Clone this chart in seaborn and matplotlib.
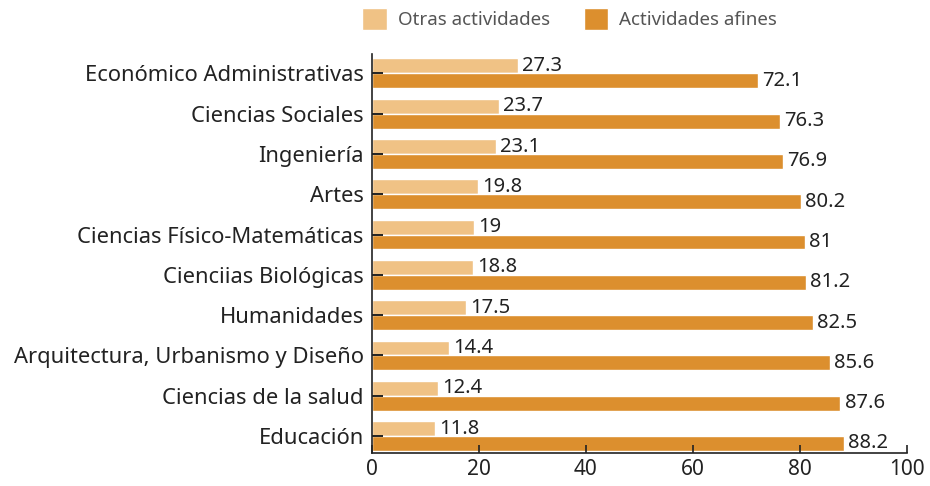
import pandas as pd
import seaborn as sns
import matplotlib.pyplot as plt

# Data
areas = [
    "Económico Administrativas",
    "Ciencias Sociales",
    "Ingeniería",
    "Artes",
    "Ciencias Físico-Matemáticas",
    "Cienciias Biológicas",
    "Humanidades",
    "Arquitectura, Urbanismo y Diseño",
    "Ciencias de la salud",
    "Educación",
]
otras = [27.3, 23.7, 23.1, 19.8, 19, 18.8, 17.5, 14.4, 12.4, 11.8]
afines = [72.1, 76.3, 76.9, 80.2, 81, 81.2, 82.5, 85.6, 87.6, 88.2]
series = ["Otras actividades", "Actividades afines"]
colors = ["#F0C285", "#DC8F2E"]

df = pd.DataFrame({"area": areas, series[0]: otras, series[1]: afines})
df = df.melt(id_vars="area", var_name="serie", value_name="pct")

sns.set_style("white")
plt.rcParams["font.family"] = ["Noto Sans", "DejaVu Sans"]

fig = plt.figure(figsize=(9.3, 4.86), dpi=100)
ax = fig.add_axes([0.4, 0.068, 0.575, 0.82])

sns.barplot(
    data=df, y="area", x="pct", hue="serie", hue_order=series,
    palette=colors, orient="h", width=0.74, ax=ax, saturation=1,
)

for cont in ax.containers:
    ax.bar_label(cont, fmt="%g", padding=3, fontsize=14.5, color="#222222")

ax.set_axisbelow(False)
ax.set_xlim(0, 100)
ax.set_ylim(9.42, -0.47)
ax.set_xticks([0, 20, 40, 60, 80, 100])
ax.set_xlabel("")
ax.set_ylabel("")
ax.tick_params(axis="x", bottom=True, direction="in", length=6, width=1.2,
               labelsize=15, pad=4, colors="#222222")
ax.tick_params(axis="y", left=True, direction="in", length=8, width=1.4,
               labelsize=15.8, pad=6, colors="#222222")
for s in ["top", "right"]:
    ax.spines[s].set_visible(False)
for s in ["left", "bottom"]:
    ax.spines[s].set_color("#222222")
    ax.spines[s].set_linewidth(1.2)

leg = ax.legend(
    loc="lower center", bbox_to_anchor=(0.37, 1.02), ncol=2, frameon=False,
    fontsize=13.5, handlelength=1.3, handleheight=1.4, columnspacing=1.8,
    handletextpad=0.6,
)
for t in leg.get_texts():
    t.set_color("#555555")

fig.savefig("out.png")
